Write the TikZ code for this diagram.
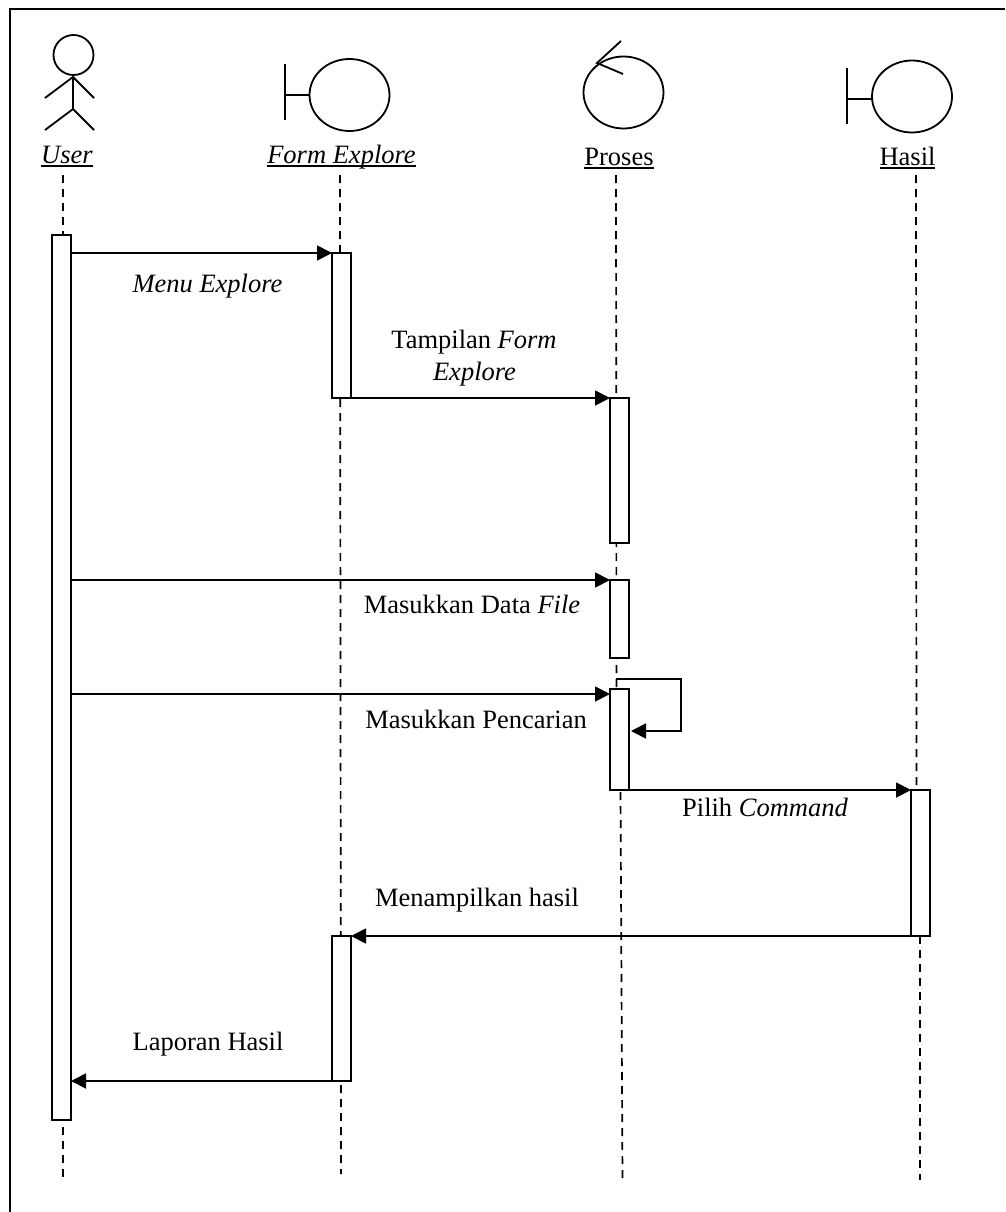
\documentclass[tikz,border=0pt]{standalone}
\usepackage{fontspec}
\setmainfont{Liberation Serif}
\usetikzlibrary{calc, positioning, shapes.geometric, arrows.meta}
\newcommand{\ulbl}[1]{\setbox0\hbox{#1}\rlap{\rule[-4pt]{\wd0}{1.8pt}}\box0}

\begin{document}
\begin{tikzpicture}[
  x=1pt, y=-1pt,
  bar/.style={rectangle, draw=black, fill=white, line width=1.8pt, minimum width=19pt, inner sep=0pt, outer sep=0pt},
  head/.style={ellipse, draw=black, line width=1.8pt, minimum width=80pt, minimum height=72pt, inner sep=0pt, outer sep=0pt},
  txt/.style={font=\fontsize{26.5}{32}\selectfont, inner sep=0pt, anchor=base, align=center},
  lifeline/.style={line width=1.7pt, dash pattern=on 8pt off 6pt},
  msg/.style={line width=1.8pt, -{Triangle[length=15pt, width=15pt]}},
  icon/.style={line width=1.8pt}
]
  \useasboundingbox (0,0) rectangle (1005,1212);
  \draw[line width=2.2pt] (10,1212) -- (10,9) -- (1005,9);

  % actor and heads
  \node[circle, draw=black, line width=1.8pt, minimum size=40pt, inner sep=0pt, outer sep=0pt] (userhead) at (73.5,55) {};
  \coordinate (neck) at (73,77);
  \coordinate (hip) at (73,109);
  \draw[icon] (neck) -- (hip);
  \draw[icon] (45,98) -- (neck) -- (94,98);
  \draw[icon] (45,130) -- (hip) -- (94,130);

  \node[head] (formhead) at (349.5,95) {};
  \draw[icon] (285,64) -- (285,120);
  \draw[icon] (285,95) -- (formhead.west);

  \node[head] (proseshead) at (623.5,92.5) {};
  \draw[icon] (621,41) -- (597,63) -- (623,74);

  \node[head] (hasilhead) at (912,96.5) {};
  \draw[icon] (847,68) -- (847,124);
  \draw[icon] (847,99) -- (hasilhead.west |- 0,99);

  % names
  \node[txt] (userlbl) at (67,163) {\ulbl{\textit{User}}};
  \node[txt] (formlbl) at (341.5,163) {\ulbl{\textit{Form Explore}}};
  \node[txt] (proseslbl) at (619,165) {\ulbl{Proses}};
  \node[txt] (hasillbl) at (907.5,165) {\ulbl{Hasil}};

  % lifelines
  \coordinate (usertop) at (63,175);
  \coordinate (userend) at (63,1181);
  \coordinate (formtop) at (340,175);
  \coordinate (formend) at (341,1174);
  \coordinate (prosestop) at (616,175);
  \coordinate (prosesend) at (622.5,1180);
  \coordinate (hasiltop) at (916,175);
  \coordinate (hasilend) at (920,1180);
  \draw[lifeline] (usertop) -- (userend);
  \draw[lifeline] (formtop) -- (formend);
  \draw[lifeline] (prosestop) -- (616.5,689);
  \draw[lifeline] (620.5,792) -- (prosesend);
  \draw[lifeline] (hasiltop) -- (916.5,790);
  \draw[lifeline] (hasilend |- 0,936) -- (hasilend);

  % activations
  \node[bar, minimum height=885pt] (userbar) at (61.5,677.5) {};
  \node[bar, minimum height=145pt] (formbara) at (341.5,325.5) {};
  \node[bar, minimum height=145pt] (formbarb) at (341.5,1008.5) {};
  \node[bar, minimum height=145pt] (prosesbara) at (619.5,470.5) {};
  \node[bar, minimum height=78pt] (prosesbarb) at (619.5,619) {};
  \node[bar, minimum height=101pt] (prosesbarc) at (619.5,739.5) {};
  \node[bar, minimum height=146pt] (hasilbar) at (920.5,863) {};

  % messages
  \draw[msg] (userbar.east |- formbara.north) -- (formbara.north west);
  \draw[msg] (formbara.south east) -- (prosesbara.north west);
  \draw[msg] (userbar.east |- prosesbarb.north) -- (prosesbarb.north west);
  \draw[msg] (userbar.east |- 0,694) -- (prosesbarc.west |- 0,694);
  \draw[msg] (616,679) -- (681,679) -- (681,731) -- (631,731);
  \draw[msg] (prosesbarc.south east) -- (hasilbar.north west);
  \draw[msg] (hasilbar.south west) -- (formbarb.north east);
  \draw[msg] (formbarb.south west) -- (userbar.east |- formbarb.south);

  % message labels
  \node[txt] (menulbl) at (207.5,292) {\textit{Menu Explore}};
  \node[txt] (tampilanlbl) at (474,348) {Tampilan \textit{Form}};
  \node[txt] (explorelbl) at (474.5,380) {\textit{Explore}};
  \node[txt] (datalbl) at (472,613) {Masukkan Data \textit{File}};
  \node[txt] (carilbl) at (476,728) {Masukkan Pencarian};
  \node[txt] (pilihlbl) at (765,816) {Pilih \textit{Command}};
  \node[txt] (hasilmsg) at (477,906) {Menampilkan hasil};
  \node[txt] (laporanlbl) at (208,1050) {Laporan Hasil};
\end{tikzpicture}
\end{document}
